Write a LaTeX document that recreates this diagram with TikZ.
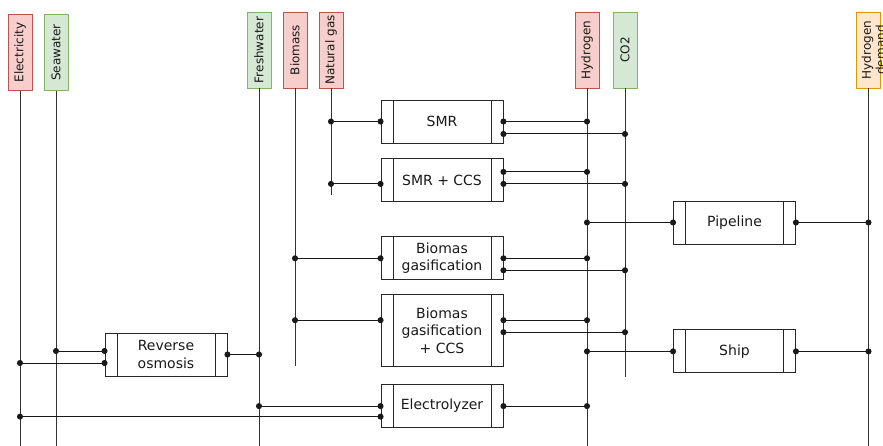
\documentclass[tikz,border=0pt]{standalone}
\usepackage{fontspec}
\setmainfont{DejaVu Sans}
\usepackage{xcolor}
\usetikzlibrary{arrows.meta, positioning, calc}
\definecolor{flowred}{HTML}{F8CECC}
\definecolor{flowredline}{HTML}{B85450}
\definecolor{flowgreen}{HTML}{D5E8D4}
\definecolor{flowgreenline}{HTML}{82B366}
\definecolor{flowamber}{HTML}{FFE6CC}
\definecolor{flowamberline}{HTML}{D79B00}

\begin{document}
\begin{tikzpicture}[
  x=1pt, y=-1pt,
  every node/.style={font=\fontsize{12}{14}\selectfont, text=black!90},
  carrier/.style={
    rotate=90, minimum width=76pt, minimum height=24pt,
    inner sep=2pt, line width=0.9pt
  },
  redc/.style={carrier, draw=flowredline, fill=flowred},
  greenc/.style={carrier, draw=flowgreenline, fill=flowgreen},
  process/.style={
    draw=black!85, line width=0.9pt, minimum width=122pt, minimum height=43pt,
    align=center, inner sep=2pt, font=\fontsize{14}{17.5}\selectfont,
    path picture={
      \draw[black!85, line width=0.9pt]
        ([xshift=12pt]path picture bounding box.north west) -- ([xshift=12pt]path picture bounding box.south west)
        ([xshift=-12pt]path picture bounding box.north east) -- ([xshift=-12pt]path picture bounding box.south east);
    }
  },
  bus/.style={draw=black!80, line width=1pt},
  link/.style={draw=black!90, line width=1pt, {Circle[length=6pt]}-{Circle[length=6pt]},
    shorten <=-3pt, shorten >=-3pt}
]
  \useasboundingbox (0,0) rectangle (883,446);

  % Vettori energetici (etichette in alto)
  \node[redc] (elec) at (20,52.5) {Electricity};
  \node[greenc] (sea) at (56,52.5) {Seawater};
  \node[greenc] (fresh) at (259,50) {Freshwater};
  \node[redc] (bio) at (295,50) {Biomass};
  \node[redc] (ng) at (331,50) {Natural gas};
  \node[redc] (h2) at (587,50) {Hydrogen};
  \node[greenc] (co2) at (625,50) {CO2};
  \node[carrier, draw=flowamberline, fill=flowamber] (hd) at (868.5,50) {};
  \node[rotate=90, align=center, inner sep=0pt] (hdtext) at ([xshift=5pt]hd.center) {Hydrogen\\demand};

  % Fine delle linee verticali
  \coordinate (base) at (0,446);
  \coordinate (bioend) at (295,366);
  \coordinate (ngend) at (331,195);
  \coordinate (co2end) at (625,377);

  \draw[bus] (elec.west) -- (elec.west |- base);
  \draw[bus] (sea.west) -- (sea.west |- base);
  \draw[bus] (fresh.west) -- (fresh.west |- base);
  \draw[bus] (bio.west) -- (bioend);
  \draw[bus] (ng.west) -- (ngend);
  \draw[bus] (h2.west) -- (h2.west |- base);
  \draw[bus] (co2.west) -- (co2end);
  \draw[bus] (hd.west) -- (hd.west |- base);

  % Processi (colonna centrale)
  \node[process] (smr) at (442,121.5) {SMR};
  \node[process, below=15pt of smr] (smrccs) {SMR + CCS};
  \node[process, below=34pt of smrccs] (bg) {Biomas\\gasification};
  \node[process, below=14pt of bg, minimum height=72pt] (bgccs) {Biomas\\gasification\\+ CCS};
  \node[process, below=17pt of bgccs] (elz) {Electrolyzer};

  % Processi laterali
  \node[process] (ro) at (166,354.5) {Reverse\\osmosis};
  \node[process] (pipe) at (734.5,222.5) {Pipeline};
  \node[process, below=85pt of pipe] (ship) {Ship};

  % Porte secondarie
  \coordinate (roin1) at ([yshift=3.5pt]ro.west);
  \coordinate (roin2) at ([yshift=-8.5pt]ro.west);
  \coordinate (smrout2) at ([yshift=-12.5pt]smr.east);
  \coordinate (smrccsin) at ([yshift=-3.5pt]smrccs.west);
  \coordinate (smrccsout1) at ([yshift=8.5pt]smrccs.east);
  \coordinate (smrccsout2) at ([yshift=-3.5pt]smrccs.east);
  \coordinate (bgout2) at ([yshift=-12pt]bg.east);
  \coordinate (bgccsin) at ([yshift=10.5pt]bgccs.west);
  \coordinate (bgccsout1) at ([yshift=10.5pt]bgccs.east);
  \coordinate (bgccsout2) at ([yshift=-1.5pt]bgccs.east);
  \coordinate (elzin2) at ([yshift=-10.5pt]elz.west);

  % Collegamenti
  \draw[link] (sea.west |- roin1) -- (roin1);
  \draw[link] (elec.west |- roin2) -- (roin2);
  \draw[link] (ro.east) -- (fresh.west |- ro.east);

  \draw[link] (ng.west |- smr.west) -- (smr.west);
  \draw[link] (smr.east) -- (h2.west |- smr.east);
  \draw[link] (smrout2) -- (co2.west |- smrout2);

  \draw[link] (ng.west |- smrccsin) -- (smrccsin);
  \draw[link] (smrccsout1) -- (h2.west |- smrccsout1);
  \draw[link] (smrccsout2) -- (co2.west |- smrccsout2);

  \draw[link] (bio.west |- bg.west) -- (bg.west);
  \draw[link] (bg.east) -- (h2.west |- bg.east);
  \draw[link] (bgout2) -- (co2.west |- bgout2);

  \draw[link] (bio.west |- bgccsin) -- (bgccsin);
  \draw[link] (bgccsout1) -- (h2.west |- bgccsout1);
  \draw[link] (bgccsout2) -- (co2.west |- bgccsout2);

  \draw[link] (fresh.west |- elz.west) -- (elz.west);
  \draw[link] (elec.west |- elzin2) -- (elzin2);
  \draw[link] (elz.east) -- (h2.west |- elz.east);

  \draw[link] (h2.west |- pipe.west) -- (pipe.west);
  \draw[link] (pipe.east) -- (hd.west |- pipe.east);
  \draw[link] (h2.west |- ship.west) -- (ship.west);
  \draw[link] (ship.east) -- (hd.west |- ship.east);

\end{tikzpicture}
\end{document}
